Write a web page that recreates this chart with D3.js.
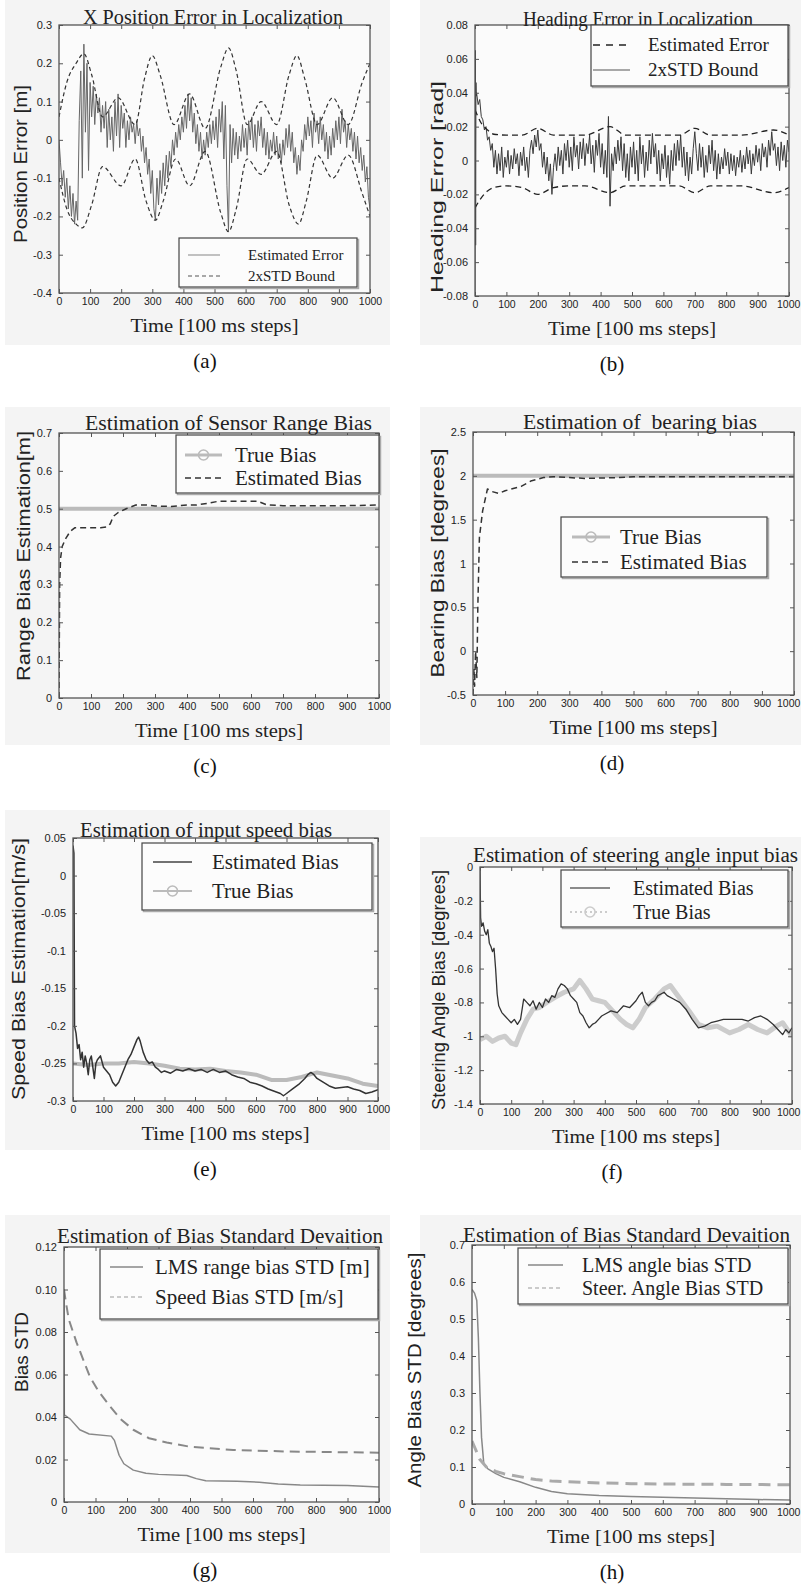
<!DOCTYPE html>
<html>
<head>
<meta charset="utf-8">
<script src="https://cdn.jsdelivr.net/npm/d3@7"></script>
<style>
  body { margin: 0; background: #fff; }
  svg { display: block; }
</style>
</head>
<body>
<svg id="fig" width="801" height="1591"></svg>
<script>
// ---------- shared axis ticks ----------
const timeTicks = [0, 100, 200, 300, 400, 500, 600, 700, 800, 900, 1000];

// ---------- (a) X position error ----------
// estimated error, sampled every 5 steps from t = 0
const xErrEst = [
  0.00,-0.06,-0.12,-0.08,-0.15,-0.10,-0.18,-0.12,-0.20,-0.14,-0.22,-0.16,-0.21,0.05,0.18,-0.10,0.25,0.02,0.20,-0.08,
  0.15,0.06,0.14,0.04,0.12,0.07,0.11,0.02,0.09,0.03,0.10,-0.02,0.08,0.00,0.06,-0.03,0.10,0.01,0.12,-0.02,
  0.09,0.03,0.07,-0.02,0.05,0.00,0.06,0.02,0.04,-0.01,0.05,0.01,0.03,-0.03,0.01,-0.06,-0.02,-0.09,-0.05,-0.14,
  -0.08,-0.18,-0.21,-0.10,-0.17,-0.08,-0.14,-0.06,-0.12,-0.04,-0.10,-0.03,-0.07,0.00,-0.04,0.02,-0.02,0.04,0.00,0.06,
  0.02,0.09,0.03,0.12,0.05,0.11,0.02,0.07,-0.01,0.04,-0.03,0.02,-0.05,0.00,-0.04,0.02,-0.02,0.04,-0.01,0.05,
  0.00,0.06,-0.02,0.08,0.02,0.10,-0.05,0.09,-0.12,-0.24,0.04,-0.06,0.03,-0.04,0.02,-0.05,0.01,-0.03,0.04,-0.02,
  0.03,-0.04,0.05,0.00,0.06,-0.02,0.04,-0.03,0.05,0.01,0.06,-0.02,0.03,-0.04,0.02,-0.05,0.00,-0.03,0.02,-0.04,
  0.01,-0.05,-0.01,-0.06,0.00,-0.04,0.03,-0.02,0.04,-0.03,0.02,-0.06,-0.02,-0.09,-0.04,-0.08,0.00,-0.03,0.04,0.00,
  0.06,0.01,0.05,-0.02,0.07,0.02,0.05,-0.01,0.06,0.00,0.04,-0.03,0.02,-0.05,0.01,-0.04,0.03,-0.02,0.05,0.00,
  0.06,-0.01,0.08,0.02,0.05,-0.02,0.04,0.00,0.03,-0.03,0.02,-0.05,0.01,-0.06,-0.02,-0.08,-0.04,-0.11,-0.07,-0.15,
  -0.18
];
const xBoundUpper = [
  [0,0.06],[25,0.15],[55,0.20],[80,0.225],[105,0.17],[140,0.06],[190,0.11],[245,0.04],[275,0.16],[300,0.22],
  [325,0.17],[370,0.04],[420,0.12],[470,0.03],[520,0.19],[545,0.24],[570,0.18],[605,0.04],[650,0.10],[700,0.04],
  [740,0.17],[765,0.22],[790,0.16],[830,0.04],[880,0.11],[930,0.04],[975,0.15],[1000,0.20]
];
const xBoundLower = [
  [0,-0.10],[25,-0.18],[55,-0.22],[75,-0.23],[105,-0.17],[140,-0.07],[200,-0.12],[245,-0.05],[280,-0.16],[310,-0.21],
  [335,-0.16],[375,-0.05],[420,-0.12],[470,-0.03],[520,-0.19],[545,-0.24],[570,-0.18],[605,-0.05],[650,-0.09],[700,-0.03],
  [740,-0.17],[770,-0.22],[795,-0.16],[830,-0.04],[880,-0.10],[930,-0.04],[975,-0.14],[1000,-0.20]
];
const aYTicks = [-0.4,-0.3,-0.2,-0.1,0,0.1,0.2,0.3];
const aYLabels = ["-0.4","-0.3","-0.2","-0.1","0","0.1","0.2","0.3"];

// ---------- (b) heading error ----------
const hdgErrStart = [[0,-0.078],[1,0.065],[2,-0.05],[3,0.046],[4,0.038]];
// sampled every 5 steps from t = 5
const hdgErrEst = [
  0.040,0.033,0.036,0.026,0.024,0.018,0.020,0.012,0.014,0.006,0.010,-0.004,0.006,-0.008,0.004,-0.006,0.008,-0.010,0.002,-0.004,
  0.006,-0.008,0.003,-0.005,0.007,-0.002,0.004,-0.009,0.005,-0.003,0.008,-0.006,0.002,-0.010,0.006,0.012,0.004,0.015,0.008,0.018,
  0.006,0.010,-0.004,0.005,-0.008,0.002,-0.012,-0.002,-0.020,-0.004,0.004,-0.006,0.008,-0.003,0.006,-0.008,0.010,0.000,0.012,-0.004,
  0.008,-0.006,0.014,0.002,0.009,-0.005,0.011,0.001,0.013,-0.003,0.010,0.004,0.015,-0.002,0.009,-0.007,0.012,0.003,0.016,-0.004,
  0.010,-0.008,0.006,-0.010,0.026,-0.027,0.004,-0.006,0.008,-0.002,0.012,0.000,0.014,-0.006,0.010,-0.010,0.004,-0.012,0.008,-0.004,
  0.011,-0.008,0.006,-0.012,0.014,-0.002,0.009,-0.010,0.005,-0.006,0.012,-0.002,0.016,0.002,0.010,-0.008,0.006,-0.012,0.004,-0.005,
  0.009,-0.010,0.003,-0.014,0.006,-0.006,0.010,-0.003,0.012,0.000,0.015,-0.004,0.008,-0.009,0.005,-0.012,0.002,-0.008,0.007,0.017,
  0.004,-0.006,0.010,-0.004,0.008,-0.010,0.003,-0.007,0.009,-0.002,0.012,-0.006,0.006,-0.011,0.004,-0.008,0.002,-0.005,0.007,-0.003,
  0.005,-0.008,0.004,-0.006,0.003,-0.009,0.002,-0.004,0.006,-0.007,0.003,-0.005,0.008,-0.002,0.006,-0.008,0.004,-0.003,0.009,-0.001,
  0.007,-0.006,0.010,0.002,0.008,-0.004,0.012,0.003,0.017,0.006,0.010,-0.003,0.008,-0.006,0.011,0.000,0.009,-0.004,0.012,0.005
];
const hdgBoundUpper = [
  [0,0.030],[20,0.022],[40,0.018],[60,0.0155],[100,0.015],[150,0.015],[200,0.019],[250,0.015],[300,0.015],[350,0.015],
  [430,0.020],[480,0.015],[550,0.015],[650,0.015],[700,0.019],[750,0.015],[850,0.015],[950,0.018],[1000,0.015]
];
const hdgBoundLower = [
  [0,-0.028],[20,-0.022],[40,-0.018],[60,-0.016],[100,-0.015],[150,-0.016],[200,-0.020],[250,-0.016],[300,-0.015],[350,-0.015],
  [430,-0.019],[480,-0.015],[550,-0.015],[650,-0.015],[700,-0.019],[750,-0.015],[850,-0.015],[950,-0.019],[1000,-0.016]
];
const bYTicks = [-0.08,-0.06,-0.04,-0.02,0,0.02,0.04,0.06,0.08];
const bYLabels = ["-0.08","-0.06","-0.04","-0.02","0","0.02","0.04","0.06","0.08"];

// ---------- (c) sensor range bias ----------
const rangeBiasTrue = [[0,0.5],[1000,0.5]];
const rangeBiasEst = [
  [0,0],[2,0.30],[5,0.37],[10,0.40],[20,0.42],[35,0.44],[50,0.45],[70,0.45],[100,0.45],[130,0.45],[150,0.452],
  [160,0.46],[170,0.48],[185,0.49],[210,0.50],[240,0.51],[270,0.51],[300,0.507],[350,0.506],[400,0.51],[430,0.51],
  [470,0.515],[500,0.52],[560,0.52],[620,0.52],[650,0.51],[700,0.508],[800,0.508],[900,0.508],[1000,0.51]
];
const cYTicks = [0,0.1,0.2,0.3,0.4,0.5,0.6,0.7];
const cYLabels = ["0","0.1","0.2","0.3","0.4","0.5","0.6","0.7"];

// ---------- (d) bearing bias ----------
const bearingBiasTrue = [[0,2],[1000,2]];
const bearingBiasEst = [
  [0,-0.5],[3,-0.2],[5,-0.4],[8,0],[12,-0.3],[15,0.5],[20,1.3],[30,1.6],[45,1.85],[60,1.82],[80,1.8],[100,1.83],
  [150,1.88],[180,1.94],[220,1.98],[250,1.99],[300,1.98],[350,1.97],[400,1.975],[450,1.98],[500,1.99],[1000,1.99]
];
const dYTicks = [-0.5,0,0.5,1,1.5,2,2.5];
const dYLabels = ["-0.5","0","0.5","1","1.5","2","2.5"];

// ---------- (e) input speed bias ----------
const speedBiasEst = [
  [0,0.04],[3,0.03],[5,-0.20],[10,-0.21],[15,-0.23],[20,-0.225],[25,-0.245],[30,-0.235],[35,-0.255],[40,-0.24],
  [45,-0.25],[50,-0.265],[55,-0.245],[60,-0.24],[65,-0.255],[70,-0.27],[75,-0.25],[80,-0.245],[90,-0.24],[100,-0.255],
  [110,-0.26],[120,-0.265],[130,-0.275],[140,-0.28],[150,-0.275],[160,-0.265],[170,-0.255],[180,-0.245],[190,-0.238],
  [200,-0.228],[210,-0.218],[215,-0.215],[220,-0.22],[230,-0.235],[240,-0.245],[250,-0.25],[260,-0.248],[270,-0.255],
  [280,-0.258],[290,-0.262],[300,-0.26],[320,-0.263],[340,-0.258],[360,-0.26],[380,-0.257],[400,-0.26],[420,-0.258],
  [440,-0.262],[460,-0.258],[480,-0.262],[500,-0.26],[520,-0.265],[540,-0.268],[560,-0.27],[580,-0.275],[600,-0.277],
  [620,-0.28],[640,-0.284],[660,-0.287],[680,-0.29],[690,-0.293],[700,-0.29],[720,-0.284],[740,-0.278],[760,-0.27],
  [770,-0.265],[780,-0.262],[790,-0.265],[800,-0.27],[820,-0.275],[840,-0.28],[860,-0.283],[880,-0.282],[900,-0.281],
  [920,-0.284],[940,-0.286],[960,-0.29],[980,-0.288],[1000,-0.285]
];
const speedBiasTrue = [
  [0,-0.25],[50,-0.252],[100,-0.25],[150,-0.25],[200,-0.248],[250,-0.25],[300,-0.253],[350,-0.257],[400,-0.258],
  [450,-0.257],[500,-0.26],[550,-0.262],[600,-0.265],[650,-0.272],[700,-0.272],[750,-0.268],[800,-0.262],[850,-0.266],
  [900,-0.27],[950,-0.277],[1000,-0.28]
];
const eYTicks = [-0.3,-0.25,-0.2,-0.15,-0.1,-0.05,0,0.05];
const eYLabels = ["-0.3","-0.25","-0.2","-0.15","-0.1","-0.05","0","0.05"];

// ---------- (f) steering angle input bias ----------
const steerBiasEst = [
  [0,-0.02],[2,-0.30],[5,-0.35],[10,-0.33],[15,-0.38],[20,-0.40],[25,-0.37],[30,-0.45],[35,-0.47],[40,-0.50],[45,-0.48],
  [50,-0.60],[55,-0.75],[60,-0.82],[70,-0.86],[80,-0.88],[90,-0.90],[100,-0.92],[110,-0.90],[120,-0.93],[130,-0.90],
  [140,-0.78],[150,-0.80],[160,-0.82],[170,-0.79],[180,-0.84],[190,-0.80],[200,-0.83],[210,-0.78],[220,-0.80],[230,-0.76],
  [240,-0.77],[250,-0.72],[260,-0.69],[270,-0.70],[280,-0.72],[290,-0.76],[300,-0.78],[310,-0.80],[320,-0.86],[330,-0.88],
  [340,-0.92],[350,-0.95],[360,-0.93],[370,-0.92],[380,-0.90],[390,-0.88],[400,-0.87],[420,-0.85],[440,-0.86],[460,-0.82],
  [480,-0.83],[500,-0.79],[510,-0.76],[520,-0.74],[530,-0.80],[540,-0.82],[550,-0.80],[560,-0.79],[570,-0.76],[580,-0.75],
  [590,-0.74],[600,-0.76],[620,-0.78],[640,-0.80],[660,-0.84],[680,-0.90],[700,-0.95],[720,-0.94],[740,-0.92],[760,-0.91],
  [780,-0.90],[800,-0.90],[820,-0.90],[840,-0.90],[860,-0.91],[880,-0.89],[900,-0.88],[920,-0.90],[940,-0.93],[960,-0.97],
  [970,-0.99],[980,-0.96],[990,-0.98],[1000,-0.95]
];
const steerBiasTrue = [
  [0,-1.02],[20,-1.00],[40,-1.03],[60,-1.01],[80,-1.00],[100,-1.04],[115,-1.05],[130,-0.98],[150,-0.90],[170,-0.84],
  [190,-0.83],[214,-0.80],[240,-0.77],[270,-0.74],[300,-0.72],[320,-0.67],[340,-0.72],[360,-0.78],[380,-0.79],[400,-0.80],
  [425,-0.85],[450,-0.90],[470,-0.93],[490,-0.95],[510,-0.90],[530,-0.83],[560,-0.78],[590,-0.72],[610,-0.70],[630,-0.75],
  [650,-0.80],[670,-0.85],[700,-0.93],[730,-0.95],[760,-0.94],[800,-0.98],[830,-0.96],[860,-0.93],[890,-0.96],[920,-0.98],
  [950,-0.94],[970,-0.92],[1000,-1.00]
];
const fYTicks = [-1.4,-1.2,-1,-0.8,-0.6,-0.4,-0.2,0];
const fYLabels = ["-1.4","-1.2","-1","-0.8","-0.6","-0.4","-0.2","0"];

// ---------- (g) bias standard deviation, range / speed ----------
const rangeStd = [
  [0,0.10],[1,0.041],[20,0.039],[50,0.034],[80,0.032],[150,0.031],[160,0.029],[175,0.022],[190,0.018],[220,0.015],
  [260,0.0135],[300,0.013],[390,0.0125],[420,0.011],[450,0.010],[550,0.0098],[620,0.0093],[680,0.0085],[750,0.008],
  [900,0.0078],[1000,0.007]
];
const speedStd = [
  [0,0.10],[5,0.095],[15,0.086],[40,0.075],[82,0.059],[110,0.052],[146,0.045],[180,0.039],[220,0.034],[270,0.030],
  [326,0.028],[400,0.026],[537,0.0245],[700,0.0238],[850,0.0235],[1000,0.0232]
];
const gYTicks = [0,0.02,0.04,0.06,0.08,0.10,0.12];
const gYLabels = ["0","0.02","0.04","0.06","0.08","0.10","0.12"];

// ---------- (h) bias standard deviation, angle / steering ----------
const angleStd = [
  [0,0.58],[8,0.57],[15,0.55],[20,0.45],[25,0.30],[30,0.18],[37,0.11],[50,0.095],[75,0.082],[100,0.072],[150,0.060],
  [200,0.045],[250,0.034],[300,0.028],[400,0.023],[500,0.020],[600,0.018],[700,0.016],[800,0.014],[900,0.012],[1000,0.011]
];
const steerStd = [
  [0,0.17],[10,0.15],[25,0.12],[45,0.10],[75,0.088],[100,0.082],[150,0.074],[200,0.066],[250,0.062],[300,0.060],
  [400,0.057],[500,0.055],[600,0.054],[800,0.053],[1000,0.052]
];
const hYTicks = [0,0.1,0.2,0.3,0.4,0.5,0.6,0.7];
const hYLabels = ["0","0.1","0.2","0.3","0.4","0.5","0.6","0.7"];

// ---------- drawing ----------
const SERIF = "'Liberation Serif','Times New Roman',serif";
const SANS = "'Liberation Sans',Arial,sans-serif";
const INK = "#222";
const PAGE_W = 801;
const svg = d3.select("#fig");

const stepSeries = (vals, start, step) => vals.map((v, i) => [start + i * step, v]);

function drawPanel(p) {
  const [x0, x1, y0, y1] = p.box;
  const g = svg.append("g");

  g.append("rect")
    .attr("x", p.bg[0]).attr("y", p.bg[1]).attr("width", p.bg[2]).attr("height", p.bg[3])
    .attr("fill", "#f4f4f4");

  const x = d3.scaleLinear().domain([0, 1000]).range([x0, x1]);
  const y = d3.scaleLinear().domain(p.yDomain).range([y1, y0]);

  g.append("rect")
    .attr("x", x0).attr("y", y0).attr("width", x1 - x0).attr("height", y1 - y0)
    .attr("fill", "#fbfbfb");

  const clipId = "clip-" + p.id;
  g.append("clipPath").attr("id", clipId).append("rect")
    .attr("x", x0).attr("y", y0).attr("width", x1 - x0).attr("height", y1 - y0);
  const plot = g.append("g").attr("clip-path", `url(#${clipId})`);

  p.series.forEach(s => {
    const line = d3.line().x(d => x(d[0])).y(d => y(d[1])).curve(s.curve || d3.curveLinear);
    plot.append("path").datum(s.data)
      .attr("d", line)
      .attr("fill", "none")
      .attr("stroke", s.color)
      .attr("stroke-width", s.width)
      .attr("stroke-dasharray", s.dash || null)
      .attr("stroke-linejoin", "round");
  });

  // MATLAB-style inward ticks on all four sides
  const tl = 4;
  const styleAxis = (sel, size) => {
    sel.select(".domain").remove();
    sel.selectAll(".tick line").attr("stroke", "#555").attr("stroke-width", 1);
    sel.selectAll(".tick text").attr("fill", INK).attr("font-family", SANS).attr("font-size", size);
  };
  const yFmt = d => p.yLabels[p.yTicks.indexOf(d)];

  const bottomAxis = g.append("g").attr("transform", `translate(0,${y1})`)
    .call(d3.axisBottom(x).tickValues(timeTicks).tickFormat(d => String(d)).tickSize(-tl).tickSizeOuter(0).tickPadding(5))
    .call(s => styleAxis(s, 10.5));
  // keep the last time label inside the page
  bottomAxis.selectAll(".tick text").each(function (d) {
    const box = this.getBBox();
    const right = x(d) + box.x + box.width;
    if (right > PAGE_W - 1) d3.select(this).attr("x", PAGE_W - 1 - right);
  });

  g.append("g").attr("transform", `translate(0,${y0})`)
    .call(d3.axisTop(x).tickValues(timeTicks).tickFormat("").tickSize(-tl).tickSizeOuter(0))
    .call(s => styleAxis(s, 10));
  g.append("g").attr("transform", `translate(${x0},0)`)
    .call(d3.axisLeft(y).tickValues(p.yTicks).tickFormat(yFmt).tickSize(-tl).tickSizeOuter(0).tickPadding(7))
    .call(s => styleAxis(s, 11));
  g.append("g").attr("transform", `translate(${x1},0)`)
    .call(d3.axisRight(y).tickValues(p.yTicks).tickFormat("").tickSize(-tl).tickSizeOuter(0))
    .call(s => styleAxis(s, 10));

  g.append("rect")
    .attr("x", x0).attr("y", y0).attr("width", x1 - x0).attr("height", y1 - y0)
    .attr("fill", "none").attr("stroke", "#555").attr("stroke-width", 1.3);

  // title
  g.append("text")
    .attr("x", p.title.x).attr("y", p.title.y)
    .attr("font-family", SERIF).attr("font-size", 20).attr("fill", INK)
    .attr("textLength", p.title.len).attr("lengthAdjust", "spacingAndGlyphs")
    .style("white-space", "pre")
    .text(p.title.text);

  // x label
  const xc = (x0 + x1) / 2;
  g.append("text")
    .attr("x", xc).attr("y", y1 + 39).attr("text-anchor", "middle")
    .attr("font-family", SERIF).attr("font-size", 18).attr("fill", INK)
    .attr("textLength", 168).attr("lengthAdjust", "spacingAndGlyphs")
    .text("Time [100 ms steps]");

  // y label
  g.append("text")
    .attr("transform", `translate(${p.ylab.x},${p.ylab.cy}) rotate(-90)`)
    .attr("text-anchor", "middle")
    .attr("font-family", SANS).attr("font-size", p.ylab.size || 18).attr("fill", INK)
    .attr("textLength", p.ylab.len).attr("lengthAdjust", "spacingAndGlyphs")
    .text(p.ylab.text);

  // legend
  const L = p.legend;
  g.append("rect")
    .attr("x", L.x + 1.5).attr("y", L.y + 1.5).attr("width", L.w).attr("height", L.h)
    .attr("fill", "none").attr("stroke", "#aaa").attr("stroke-width", 1.5);
  g.append("rect")
    .attr("x", L.x).attr("y", L.y).attr("width", L.w).attr("height", L.h)
    .attr("fill", "#fcfcfc").attr("stroke", "#444").attr("stroke-width", 1.2);
  L.rows.forEach(r => {
    g.append("line")
      .attr("x1", L.sample[0]).attr("x2", L.sample[1]).attr("y1", r.y).attr("y2", r.y)
      .attr("stroke", r.color).attr("stroke-width", r.width)
      .attr("stroke-dasharray", r.dash || null);
    if (r.marker) {
      g.append("circle")
        .attr("cx", (L.sample[0] + L.sample[1]) / 2).attr("cy", r.y).attr("r", 5)
        .attr("fill", "none").attr("stroke", r.color).attr("stroke-width", 1.6);
    }
    g.append("text")
      .attr("x", L.textX).attr("y", r.y + L.font * 0.33)
      .attr("font-family", SERIF).attr("font-size", L.font).attr("fill", INK)
      .text(r.label);
  });

  // caption
  g.append("text")
    .attr("x", p.caption.x).attr("y", y1 + 75).attr("text-anchor", "middle")
    .attr("font-family", SERIF).attr("font-size", 21).attr("fill", "#111")
    .text(p.caption.text);
}

const panels = [
  {
    id: "a", box: [59, 370, 25, 293], bg: [5, 0, 385, 345],
    yDomain: [-0.4, 0.3], yTicks: aYTicks, yLabels: aYLabels,
    title: { text: "X Position Error in Localization", x: 83, y: 24, len: 260 },
    ylab: { text: "Position Error [m]", x: 27, cy: 164, len: 158 },
    series: [
      { data: stepSeries(xErrEst, 0, 5), color: "#666", width: 1 },
      { data: xBoundUpper, color: "#333", width: 1.2, dash: "4,3", curve: d3.curveMonotoneX },
      { data: xBoundLower, color: "#333", width: 1.2, dash: "4,3", curve: d3.curveMonotoneX }
    ],
    legend: { x: 179, y: 238, w: 178, h: 49, font: 15, sample: [188, 220], textX: 248,
      rows: [
        { label: "Estimated Error", y: 255, color: "#999", width: 1.2 },
        { label: "2xSTD Bound", y: 276, color: "#555", width: 1.2, dash: "4,3" }
      ] },
    caption: { text: "(a)", x: 205 }
  },
  {
    id: "b", box: [475, 789, 25, 296], bg: [420, 0, 381, 345],
    yDomain: [-0.08, 0.08], yTicks: bYTicks, yLabels: bYLabels,
    title: { text: "Heading Error in Localization", x: 523, y: 26, len: 230 },
    ylab: { text: "Heading Error [rad]", x: 443, cy: 187, len: 212, size: 17 },
    series: [
      { data: hdgErrStart.concat(stepSeries(hdgErrEst, 5, 5)), color: "#3a3a3a", width: 1 },
      { data: hdgBoundUpper, color: "#222", width: 1.3, dash: "6,4", curve: d3.curveMonotoneX },
      { data: hdgBoundLower, color: "#222", width: 1.3, dash: "6,4", curve: d3.curveMonotoneX }
    ],
    legend: { x: 591, y: 25, w: 197, h: 61, font: 19, sample: [593, 630], textX: 648,
      rows: [
        { label: "Estimated Error", y: 45, color: "#222", width: 1.4, dash: "7,6" },
        { label: "2xSTD Bound", y: 70, color: "#555", width: 1.2 }
      ] },
    caption: { text: "(b)", x: 612 }
  },
  {
    id: "c", box: [59, 379, 433, 698], bg: [5, 407, 385, 338],
    yDomain: [0, 0.7], yTicks: cYTicks, yLabels: cYLabels,
    title: { text: "Estimation of Sensor Range Bias", x: 85, y: 430, len: 287 },
    ylab: { text: "Range Bias Estimation[m]", x: 30, cy: 556, len: 250 },
    series: [
      { data: rangeBiasTrue, color: "#bbb", width: 4 },
      { data: rangeBiasEst, color: "#333", width: 1.5, dash: "6,4" }
    ],
    legend: { x: 176, y: 435, w: 203, h: 58, font: 21, sample: [185, 222], textX: 235,
      rows: [
        { label: "True Bias", y: 455, color: "#bbb", width: 3, marker: true },
        { label: "Estimated Bias", y: 478, color: "#333", width: 1.5, dash: "6,4" }
      ] },
    caption: { text: "(c)", x: 205 }
  },
  {
    id: "d", box: [473, 794, 432, 695], bg: [420, 407, 381, 338],
    yDomain: [-0.5, 2.5], yTicks: dYTicks, yLabels: dYLabels,
    title: { text: "Estimation of  bearing bias", x: 523, y: 429, len: 234 },
    ylab: { text: "Bearing Bias [degrees]", x: 444, cy: 563, len: 229 },
    series: [
      { data: bearingBiasTrue, color: "#bbb", width: 4 },
      { data: bearingBiasEst, color: "#333", width: 1.5, dash: "6,4" }
    ],
    legend: { x: 561, y: 517, w: 206, h: 60, font: 21, sample: [572, 610], textX: 620,
      rows: [
        { label: "True Bias", y: 537, color: "#bbb", width: 3, marker: true },
        { label: "Estimated Bias", y: 562, color: "#333", width: 1.5, dash: "6,4" }
      ] },
    caption: { text: "(d)", x: 612 }
  },
  {
    id: "e", box: [73, 378, 838, 1101], bg: [5, 810, 385, 340],
    yDomain: [-0.3, 0.05], yTicks: eYTicks, yLabels: eYLabels,
    title: { text: "Estimation of input speed bias", x: 80, y: 837, len: 252 },
    ylab: { text: "Speed Bias Estimation[m/s]", x: 25, cy: 969, len: 262 },
    series: [
      { data: speedBiasTrue, color: "#bbb", width: 4 },
      { data: speedBiasEst, color: "#333", width: 1.5 }
    ],
    legend: { x: 142, y: 843, w: 230, h: 67, font: 21, sample: [153, 192], textX: 212,
      rows: [
        { label: "Estimated Bias", y: 862, color: "#444", width: 1.5 },
        { label: "True Bias", y: 891, color: "#bbb", width: 2, marker: true }
      ] },
    caption: { text: "(e)", x: 205 }
  },
  {
    id: "f", box: [480, 792, 867, 1104], bg: [420, 837, 381, 313],
    yDomain: [-1.4, 0], yTicks: fYTicks, yLabels: fYLabels,
    title: { text: "Estimation of steering angle input bias", x: 473, y: 862, len: 325 },
    ylab: { text: "Steering Angle Bias [degrees]", x: 445, cy: 990, len: 240 },
    series: [
      { data: steerBiasTrue, color: "#ccc", width: 5 },
      { data: steerBiasEst, color: "#333", width: 1.3 }
    ],
    legend: { x: 561, y: 870, w: 227, h: 57, font: 20, sample: [570, 610], textX: 633,
      rows: [
        { label: "Estimated Bias", y: 888, color: "#666", width: 1.5 },
        { label: "True Bias", y: 912, color: "#ccc", width: 2, dash: "2,3", marker: true }
      ] },
    caption: { text: "(f)", x: 612 }
  },
  {
    id: "g", box: [64, 379, 1247, 1502], bg: [5, 1215, 385, 338],
    yDomain: [0, 0.12], yTicks: gYTicks, yLabels: gYLabels,
    title: { text: "Estimation of Bias Standard Devaition", x: 57, y: 1243, len: 326 },
    ylab: { text: "Bias STD", x: 28, cy: 1352, len: 80 },
    series: [
      { data: rangeStd, color: "#888", width: 1.5 },
      { data: speedStd, color: "#888", width: 2, dash: "10,6" }
    ],
    legend: { x: 100, y: 1249, w: 278, h: 70, font: 21, sample: [110, 143], textX: 155,
      rows: [
        { label: "LMS range bias STD [m]", y: 1267, color: "#888", width: 1.5 },
        { label: "Speed Bias STD [m/s]", y: 1297, color: "#999", width: 1.2, dash: "4,3" }
      ] },
    caption: { text: "(g)", x: 205 }
  },
  {
    id: "h", box: [472, 790, 1245, 1504], bg: [420, 1215, 381, 338],
    yDomain: [0, 0.7], yTicks: hYTicks, yLabels: hYLabels,
    title: { text: "Estimation of Bias Standard Devaition", x: 463, y: 1242, len: 327 },
    ylab: { text: "Angle Bias STD [degrees]", x: 421, cy: 1370, len: 235 },
    series: [
      { data: angleStd, color: "#888", width: 1.5 },
      { data: steerStd, color: "#aaa", width: 3, dash: "12,7" }
    ],
    legend: { x: 518, y: 1248, w: 270, h: 56, font: 20, sample: [528, 563], textX: 582,
      rows: [
        { label: "LMS angle bias STD", y: 1265, color: "#888", width: 1.5 },
        { label: "Steer. Angle Bias STD", y: 1288, color: "#999", width: 1.2, dash: "4,3" }
      ] },
    caption: { text: "(h)", x: 612 }
  }
];

panels.forEach(drawPanel);
</script>
</body>
</html>
